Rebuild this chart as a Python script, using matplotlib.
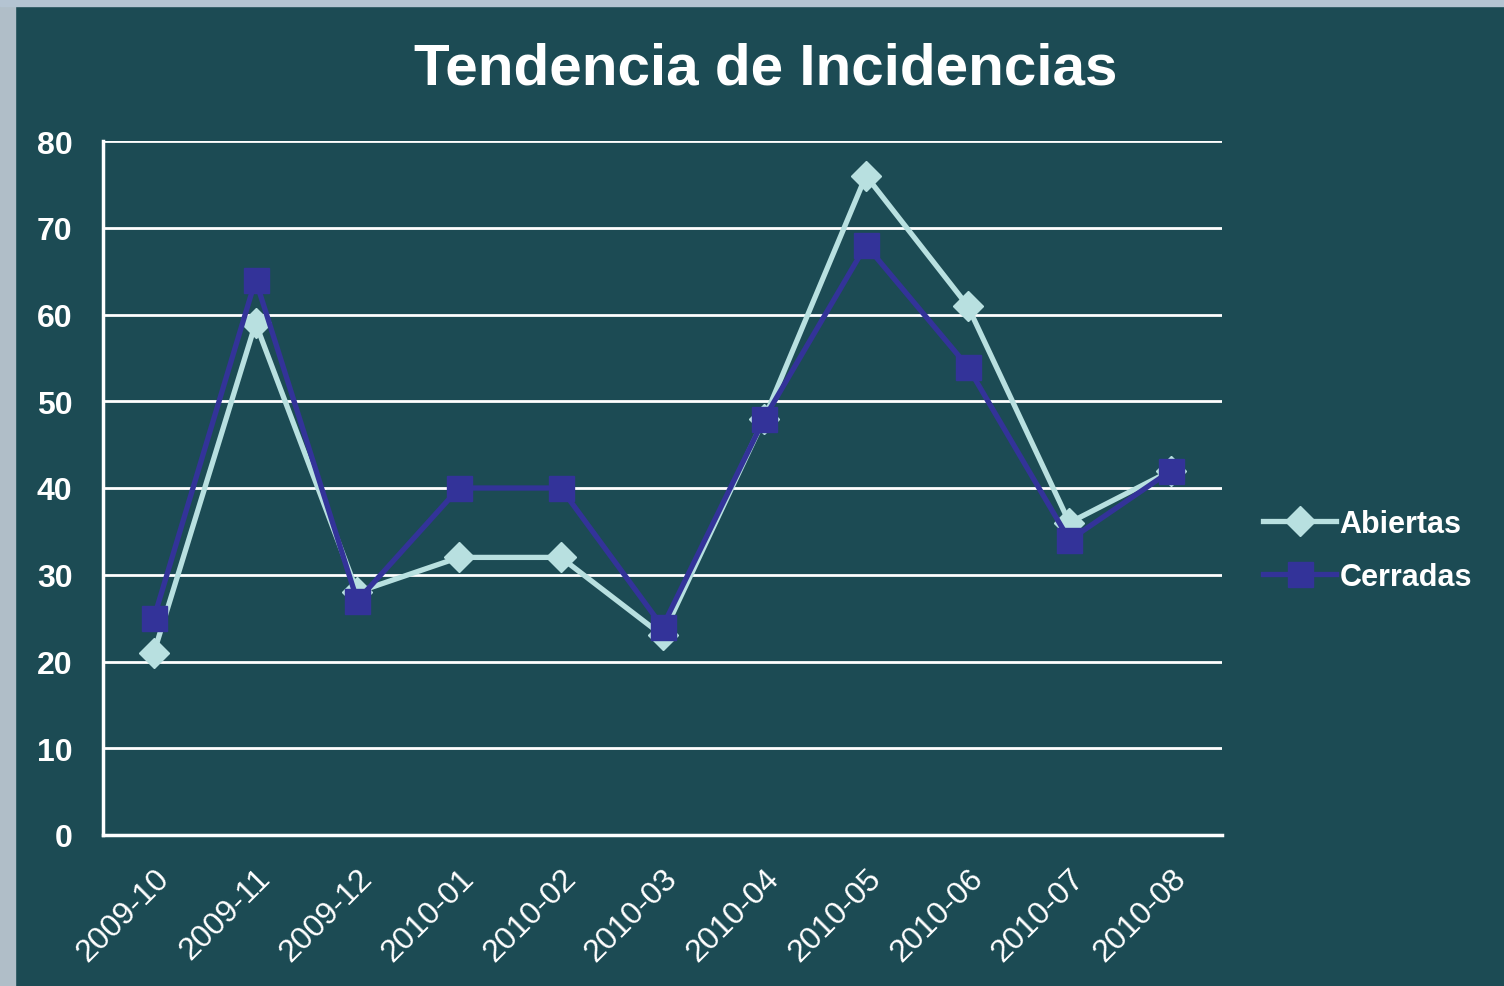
import numpy as np
import matplotlib.pyplot as plt
from matplotlib.patches import Rectangle

meses = ['2009-10', '2009-11', '2009-12', '2010-01', '2010-02', '2010-03',
         '2010-04', '2010-05', '2010-06', '2010-07', '2010-08']
abiertas = [21, 59, 28, 32, 32, 23, 48, 76, 61, 36, 42]
cerradas = [25, 64, 27, 40, 40, 24, 48, 68, 54, 34, 42]

fondo = '#1c4b54'
plt.rcParams['font.family'] = ['Liberation Sans', 'DejaVu Sans']

fig = plt.figure(figsize=(15.04, 9.87), dpi=100, facecolor=fondo)

# borde claro arriba e izquierda
fig.patches.append(Rectangle((0, 0), 15 / 1504, 1, transform=fig.transFigure,
                             color='#b0bec8', zorder=0))
fig.patches.append(Rectangle((0, 1 - 7 / 987), 1, 7 / 987, transform=fig.transFigure,
                             color='#b4c4d2', zorder=0))

ax = fig.add_axes([103 / 1504, 1 - 836 / 987, 1119 / 1504, 694 / 987])
ax.set_facecolor(fondo)

x = np.arange(len(meses))
ax.plot(x, abiertas, color='#b8e0e0', lw=3.8, marker='D', markersize=15,
        label='Abiertas', zorder=3)
ax.plot(x, cerradas, color='#333399', lw=3.8, marker='s', markersize=18,
        label='Cerradas', zorder=4)

ax.set_xlim(-0.5, len(meses) - 0.5)
ax.set_ylim(0, 80)
ax.set_yticks(range(0, 81, 10))
ax.yaxis.grid(True, color='white', lw=2)
ax.set_axisbelow(True)

for s in ['top', 'right']:
    ax.spines[s].set_visible(False)
for s in ['left', 'bottom']:
    ax.spines[s].set_color('white')
    ax.spines[s].set_linewidth(2.5)

ax.set_xticks(x)
ax.set_xticklabels(meses, rotation=45, ha='right', rotation_mode='anchor',
                   fontsize=23, color='white')
ax.tick_params(axis='x', length=0, pad=20)
ax.tick_params(axis='y', length=0, pad=22, labelcolor='white', labelsize=23)
for t in ax.get_yticklabels():
    t.set_fontweight('bold')

fig.text(0.509, 0.93, 'Tendencia de Incidencias', ha='center', va='center',
         color='white', fontsize=42, fontweight='bold')

leg = ax.legend(loc='center left', bbox_to_anchor=(1.012, 0.41), frameon=False,
                fontsize=22, handlelength=2.4, handletextpad=0.1, labelspacing=0.75)
for t in leg.get_texts():
    t.set_color('white')
    t.set_fontweight('bold')

fig.savefig('out.png', dpi=100, facecolor=fondo)
